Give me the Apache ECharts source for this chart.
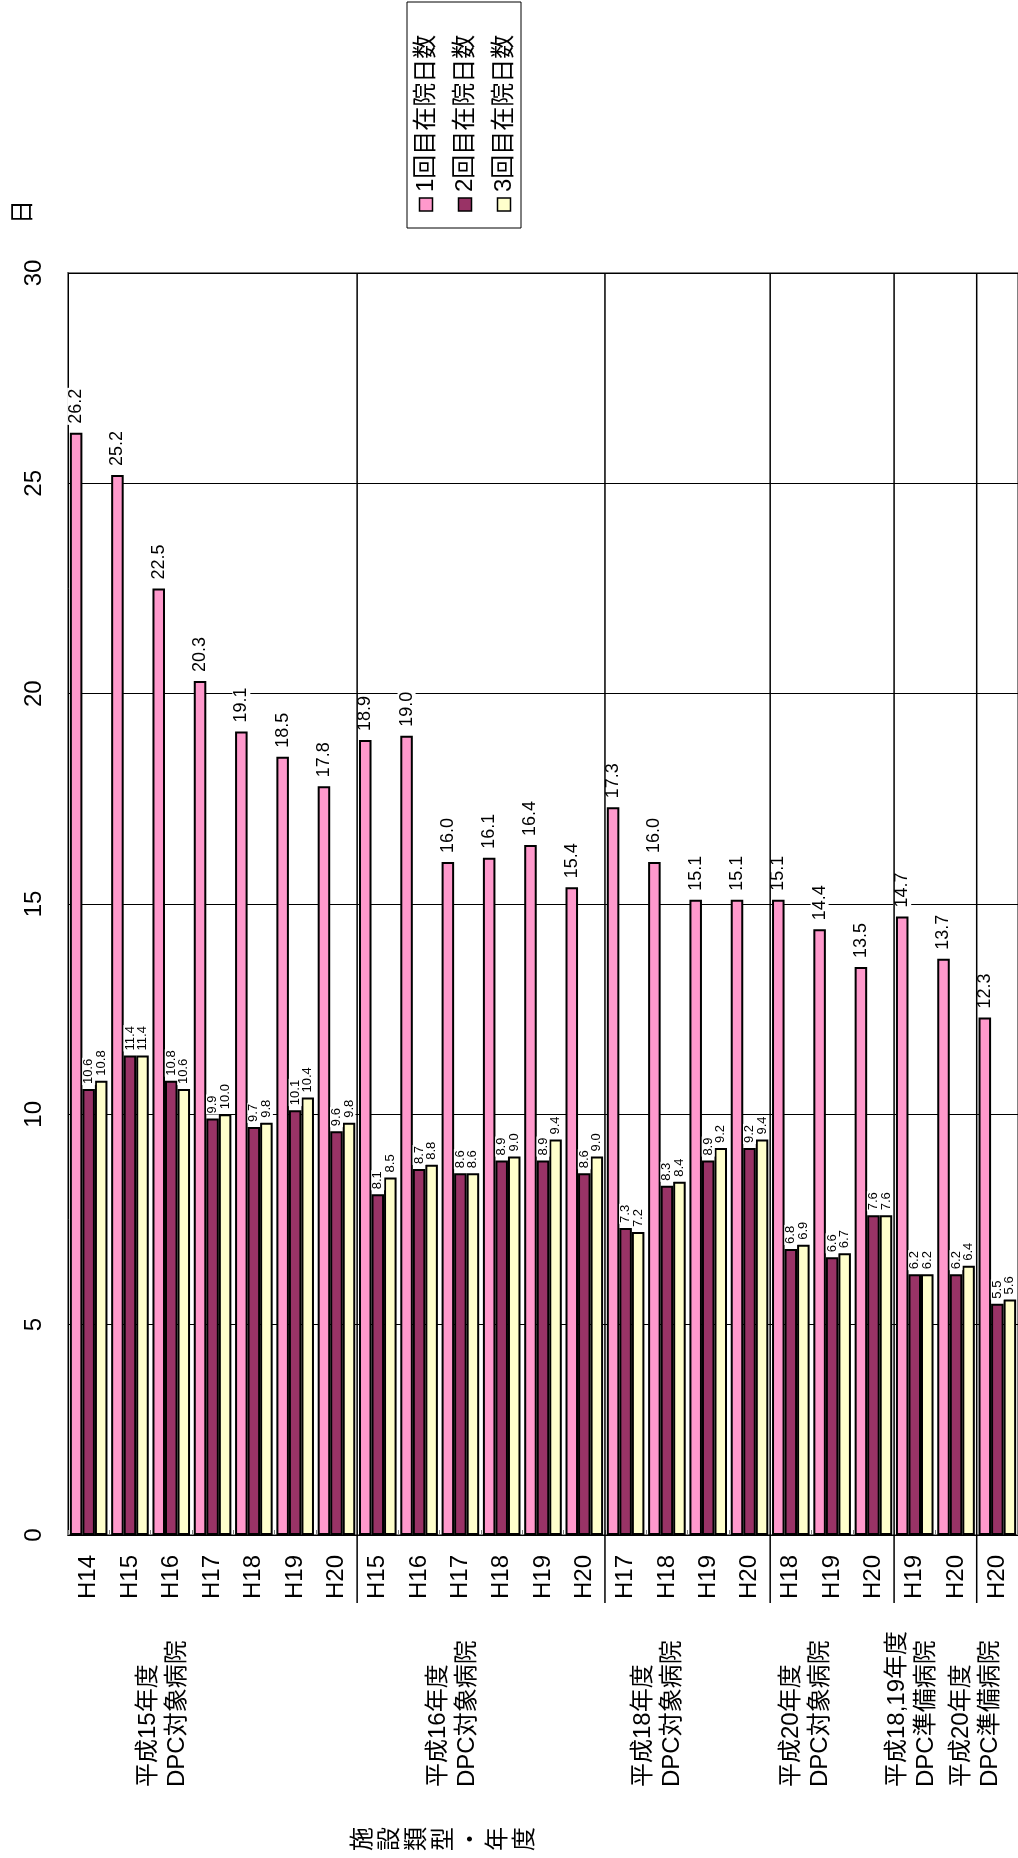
<!DOCTYPE html>
<html><head><meta charset="utf-8">
<script src="https://cdn.jsdelivr.net/npm/echarts@6/dist/echarts.min.js"></script>
<style>html,body{margin:0;padding:0;background:#fff}#c{width:1018px;height:1858px}</style>
</head><body><div id="c"></div>
<script>
const categories = ['H14','H15','H16','H17','H18','H19','H20','H15','H16','H17','H18','H19','H20','H17','H18','H19','H20','H18','H19','H20','H19','H20','H20'];
const seriesNames = ['1回目在院日数','2回目在院日数','3回目在院日数'];
const stay1 = [26.2,25.2,22.5,20.3,19.1,18.5,17.8, 18.9,19.0,16.0,16.1,16.4,15.4, 17.3,16.0,15.1,15.1, 15.1,14.4,13.5, 14.7,13.7, 12.3];
const stay2 = [10.6,11.4,10.8,9.9,9.7,10.1,9.6, 8.1,8.7,8.6,8.9,8.9,8.6, 7.3,8.3,8.9,9.2, 6.8,6.6,7.6, 6.2,6.2, 5.5];
const stay3 = [10.8,11.4,10.6,10.0,9.8,10.4,9.8, 8.5,8.8,8.6,9.0,9.4,9.0, 7.2,8.4,9.2,9.4, 6.9,6.7,7.6, 6.2,6.4, 5.6];
const groupNames = ['平成15年度\nDPC対象病院','平成16年度\nDPC対象病院','平成18年度\nDPC対象病院','平成20年度\nDPC対象病院','平成18,19年度\nDPC準備病院','平成20年度\nDPC準備病院'];
const groupSizes = [7,6,4,3,2,1];
const valueMin = 0, valueMax = 30, valueStep = 5;
const valueUnit = '日';
const categoryTitle = '施設類型・年度';

// layout / style (not data)
const FONT = "'Liberation Sans','Noto Sans CJK JP',sans-serif";
const COLORS = ['#FF99CC','#993366','#FFFFCC'];
const groupLabelPos = [2.29, 9.32, 14.29, 17.86, 20.44, 21.99]; // in category units from left edge

const chart = echarts.init(document.getElementById('c'), null, {renderer:'canvas'});

function barSeries(i, data, fontSize, dist) {
  return {
    name: seriesNames[i], type:'bar', data,
    barGap:'0%', barCategoryGap:'9%',
    itemStyle:{color:COLORS[i], borderColor:'#000', borderWidth:2},
    label:{show:true, position:'top', rotate:90, align:'left', verticalAlign:'middle', distance:dist,
      formatter:p => Number(p.value).toFixed(1), fontSize, fontFamily:FONT, color:'#000',
      backgroundColor:'#fff', padding:[0,1]},
    emphasis:{disabled:true}
  };
}

chart.setOption({
  animation:false,
  backgroundColor:'#fff',
  grid:{left:68, top:273, width:953, height:1262, show:true, borderColor:'#808080', borderWidth:2, backgroundColor:'transparent'},
  xAxis:{type:'category', data:categories,
    axisLine:{lineStyle:{color:'#000', width:1}},
    axisTick:{show:true, inside:true, length:5, lineStyle:{color:'#808080'}},
    axisLabel:{interval:0, rotate:90, fontSize:24, margin:20, color:'#000', fontFamily:FONT}},
  yAxis:{type:'value', min:valueMin, max:valueMax, interval:valueStep,
    axisLine:{show:true, lineStyle:{color:'#000', width:1}},
    axisTick:{show:false},
    splitLine:{lineStyle:{color:'#000', width:1}},
    axisLabel:{rotate:90, fontSize:24, margin:22, color:'#000', fontFamily:FONT}},
  series:[ barSeries(0, stay1, 18, 8), barSeries(1, stay2, 13, 4), barSeries(2, stay3, 13, 4) ]
});

const c0 = chart.convertToPixel({xAxisIndex:0}, 0);
const c1 = chart.convertToPixel({xAxisIndex:0}, 1);
const w = c1 - c0;
const xAt = u => c0 + (u - 0.5) * w;
const yTop = chart.convertToPixel({yAxisIndex:0}, valueMax);
const yBot = chart.convertToPixel({yAxisIndex:0}, valueMin);

const g = [];
let acc = 0;
groupSizes.forEach((n, k) => {
  acc += n;
  if (k < groupSizes.length - 1) {
    const x = xAt(acc);
    g.push({type:'line', shape:{x1:x, y1:yTop, x2:x, y2:yBot + 68}, style:{stroke:'#000', lineWidth:1.5}, z:50});
  }
});
groupNames.forEach((t, k) => {
  g.push({type:'text', x:xAt(groupLabelPos[k]), y:1787, rotation:Math.PI/2,
    style:{text:t, font:'24px ' + FONT, fill:'#000', align:'left', verticalAlign:'middle', lineHeight:29}});
});
g.push({type:'text', x:23, y:212, rotation:Math.PI/2,
  style:{text:valueUnit, font:'24px ' + FONT, fill:'#000', align:'center', verticalAlign:'middle'}});
g.push({type:'text', x:350, y:1839, rotation:Math.PI/2,
  style:{text:categoryTitle.split('').join('\n'), font:'24px ' + FONT, fill:'#000', align:'center', verticalAlign:'top', lineHeight:27}});
// legend
g.push({type:'rect', shape:{x:407, y:2, width:114, height:226}, style:{fill:'#fff', stroke:'#000', lineWidth:1}, z:60});
const legX = [426, 465, 504];
seriesNames.forEach((nm, i) => {
  g.push({type:'rect', shape:{x:legX[i]-6.5, y:198, width:13, height:13}, style:{fill:COLORS[i], stroke:'#000', lineWidth:1.5}, z:61});
  g.push({type:'text', x:legX[i], y:192, rotation:Math.PI/2, z:61,
    style:{text:nm, font:'24px ' + FONT, fill:'#000', align:'left', verticalAlign:'middle'}});
});
chart.setOption({graphic:{elements:g}});
</script>
</body></html>
